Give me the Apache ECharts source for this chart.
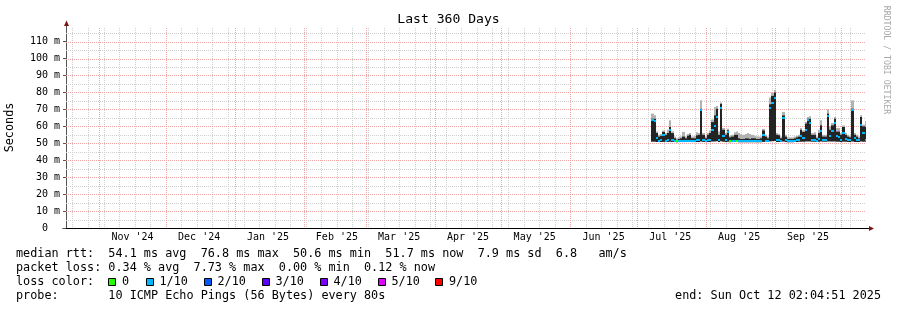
<!DOCTYPE html>
<html><head><meta charset="utf-8">
<script src="https://cdn.jsdelivr.net/npm/echarts@6/dist/echarts.min.js"></script>
<style>html,body{margin:0;padding:0;background:#fff}#c{width:897px;height:310px}</style>
</head><body><div id="c"></div>
<script>
// ---------- data ----------
const chartTitle = 'Last 360 Days';
const yAxisName = 'Seconds';
const creditText = 'RRDTOOL / TOBI OETIKER';
const yTickValues = [0, 10, 20, 30, 40, 50, 60, 70, 80, 90, 100, 110];
const monthLabels = ["Nov '24", "Dec '24", "Jan '25", "Feb '25", "Mar '25", "Apr '25", "May '25", "Jun '25", "Jul '25", "Aug '25", "Sep '25"];
const endTime = [2025, 9, 12, 2, 4, 51];   // Sun Oct 12 02:04:51 2025 (local)
const spanDays = 360;
const firstBinDate = [2025, 6, 8];         // daily bins from here

const medianMs = [
  63.5,63.0,53.0,51.5,52.0,55.0,51.5,52.0,58.0,52.0,
  51.3,51.2,51.3,51.3,51.5,51.4,51.5,51.6,51.3,51.3,
  51.8,52.0,69.4,52.0,51.5,51.8,52.0,58.0,60.0,65.5,
  52.0,71.0,54.0,51.8,56.5,51.2,51.5,51.5,51.5,51.3,
  51.3,51.3,51.3,51.3,51.3,51.3,51.3,51.3,51.3,51.3,
  55.0,51.5,51.5,71.0,74.0,76.8,52.0,51.8,51.5,64.7,
  52.0,51.2,51.2,51.3,51.5,51.8,51.8,54.0,53.0,58.0,
  64.0,62.0,52.0,52.0,51.5,52.5,57.0,52.0,52.0,66.0,
  54.0,57.0,62.0,54.0,53.5,52.0,56.0,52.5,52.0,52.0,
  69.5,53.0,52.0,52.0,60.5,56.0,51.7];
const smokeMinMs = [
  50.9,50.9,50.8,50.7,50.7,50.8,50.7,50.7,50.9,50.8,
  50.7,50.6,50.7,50.7,50.7,50.7,50.7,50.7,50.7,50.7,
  50.8,50.8,51.0,50.8,50.7,50.7,50.8,51.0,51.0,51.2,
  50.8,51.2,50.9,50.7,50.9,50.6,50.7,50.7,50.7,50.6,
  50.6,50.6,50.6,50.6,50.6,50.6,50.6,50.6,50.6,50.6,
  50.8,50.7,50.7,51.0,51.2,51.3,50.8,50.7,50.7,51.0,
  50.8,50.6,50.6,50.6,50.7,50.8,50.9,50.9,50.9,51.0,
  51.1,51.0,50.9,50.9,50.8,50.9,51.0,50.9,50.9,51.1,
  51.0,51.0,51.1,50.9,50.9,50.8,50.9,50.9,50.8,50.8,
  51.0,50.8,50.8,50.8,51.0,50.9,50.9];
const smokeDarkMs = [
  64.5,64.5,56.0,54.0,54.5,56.7,55.0,56.0,59.6,56.0,
  53.0,52.0,52.5,53.0,54.0,53.0,54.5,55.0,53.0,53.0,
  54.7,55.0,70.4,55.0,53.0,55.0,56.0,62.5,66.5,70.4,
  55.0,73.3,58.0,55.0,57.6,53.5,54.0,55.0,55.0,53.0,
  52.5,52.5,53.0,53.0,52.5,53.0,53.0,52.5,52.5,53.0,
  57.6,54.0,53.0,73.0,78.0,80.0,55.0,54.7,53.0,66.5,
  54.0,52.5,52.5,52.5,53.0,53.5,54.0,58.0,56.7,61.6,
  64.5,64.5,55.0,55.0,53.0,56.0,60.6,54.0,54.0,67.5,
  58.0,60.6,64.5,57.0,57.0,55.0,59.6,55.0,54.0,53.5,
  70.4,55.0,54.0,53.0,65.5,60.0,59.6];
const smokeMaxMs = [
  67.5,66.5,57.0,55.0,55.5,57.5,56.0,58.0,63.5,57.0,
  54.0,53.0,53.5,54.0,56.7,54.0,55.5,56.0,54.0,54.5,
  56.5,56.0,75.3,56.0,54.0,56.0,57.5,64.0,71.4,72.0,
  57.0,74.0,59.0,56.0,58.5,54.5,55.0,56.5,57.0,56.0,
  55.5,55.0,55.5,56.0,55.5,55.0,54.5,54.0,54.0,54.0,
  58.5,55.0,54.0,77.0,80.0,81.5,56.0,55.5,54.0,68.5,
  55.0,53.5,53.5,53.5,54.0,54.5,55.0,59.0,57.5,62.5,
  65.5,66.0,56.0,56.5,54.0,58.0,63.5,55.0,55.0,70.0,
  60.0,62.0,65.5,59.0,59.0,56.0,60.5,56.0,55.0,54.5,
  75.3,56.0,55.0,54.0,66.5,61.0,63.0];
const lossTenths = [
  1,1,1,1,1,1,1,1,1,1,
  1,0,1,1,1,1,1,1,1,1,
  1,1,1,1,1,1,1,1,1,1,
  1,1,1,1,1,0,1,1,0,1,
  1,1,1,1,1,1,1,1,1,1,
  1,1,1,1,1,1,1,1,1,1,
  1,1,1,1,1,1,1,1,1,1,
  1,1,1,1,1,1,1,1,1,1,
  1,1,1,1,1,1,1,1,1,1,
  1,1,1,1,1,1,1];
const lossLabels = ['0', '1/10', '2/10', '3/10', '4/10', '5/10', '9/10'];
const lossColors = ['#26ff00', '#00b8ff', '#0059ff', '#5e00ff', '#7e00ff', '#dd00ff', '#ff0000'];
const rttStats = ['54.1', '76.8', '50.6', '51.7', '7.9', '6.8'];
const lossStats = ['0.34', '7.73', '0.00', '0.12'];
const probeText = '10 ICMP Echo Pings (56 Bytes) every 80s';
const endText = 'end: Sun Oct 12 02:04:51 2025';

// ---------- derived ----------
const DAY = 86400000;
const YMAX = 118;
const END = new Date(...endTime).getTime();
const START = END - spanDays * DAY;
const binTimes = medianMs.map((_, i) => new Date(firstBinDate[0], firstBinDate[1], firstBinDate[2] + i).getTime());
const monthStarts = monthLabels.map((_, k) => new Date(2024, 10 + k, 1).getTime());
monthStarts.push(new Date(2025, 9, 1).getTime());
const labelTicks = monthLabels.map((_, k) => monthStarts[k] + 15 * DAY);
const weekStarts = [];
for (let d = new Date(2024, 9, 20); d.getTime() < END; d = new Date(d.getFullYear(), d.getMonth(), d.getDate() + 7)) weekStarts.push(d.getTime());

const FONT = "'DejaVu Sans Mono', monospace";
const MINOR = '#cfcfcf';
const MAJOR = '#f0a4a4';
const ARROW = '#7f1414';

// grid line items: [x, y, orientation(0=vertical,1=horizontal), major(0/1)]
const gridItems = [];
weekStarts.forEach(v => gridItems.push([v, 0, 0, 0]));
for (let v = 5; v < YMAX; v += 10) gridItems.push([START, v, 1, 0]);
monthStarts.forEach(v => gridItems.push([v, 0, 0, 1]));
for (let v = 10; v < YMAX; v += 10) gridItems.push([START, v, 1, 1]);

const chart = echarts.init(document.getElementById('c'), null, { renderer: 'canvas' });

const line1 = 'median rtt:  ' + rttStats[0] + ' ms avg  ' + rttStats[1] + ' ms max  ' + rttStats[2] + ' ms min  ' + rttStats[3] + ' ms now  ' + rttStats[4] + ' ms sd  ' + rttStats[5] + '   am/s';
const line2 = 'packet loss: ' + lossStats[0] + ' % avg  ' + lossStats[1] + ' % max  ' + lossStats[2] + ' % min  ' + lossStats[3] + ' % now';
const line4 = 'probe:       ' + probeText;

function txt(x, y, text, opts) {
  opts = opts || {};
  return {
    type: 'text', x: x, y: y, rotation: opts.rotation || 0, silent: true,
    style: {
      text: text, fontFamily: FONT, fontSize: opts.size || 11.8, fill: opts.color || '#000',
      align: opts.align || 'left', textAlign: opts.align || 'left',
      verticalAlign: 'middle', textVerticalAlign: 'middle'
    }
  };
}

const lossBoxX = [108, 145.5, 203.5, 261.5, 319.5, 377.5, 435];
const graphics = [
  txt(448.5, 19.5, chartTitle, { size: 13.1, align: 'center' }),
  txt(10, 127.5, yAxisName, { rotation: Math.PI / 2, align: 'center' }),
  txt(886, 60, creditText, { rotation: -Math.PI / 2, align: 'center', size: 8.2, color: '#a8a8a8' }),
  txt(16, 254.3, line1),
  txt(16, 268.3, line2),
  txt(16, 282.3, 'loss color:'),
  txt(16, 296.2, line4),
  txt(881, 296.2, endText, { align: 'right' })
];
lossLabels.forEach((lab, k) => {
  graphics.push({ type: 'rect', silent: true, shape: { x: Math.round(lossBoxX[k]) + 0.5, y: 278.5, width: 7, height: 7 },
    style: { fill: lossColors[k], stroke: '#000', lineWidth: 1 } });
  graphics.push(txt(lossBoxX[k] + 14, 282.3, lab));
});

function binRect(api, t, v0, v1) {
  const a = api.coord([t - DAY / 2, v0]);
  const b = api.coord([t + DAY / 2, v1]);
  const x0 = Math.round(a[0]), x1 = Math.round(b[0]);
  return { x: x0, y: b[1], width: Math.max(1, x1 - x0), height: a[1] - b[1] };
}

chart.setOption({
  animation: false,
  backgroundColor: '#fff',
  grid: { left: 66, right: 31, top: 28, bottom: 82, containLabel: false },
  xAxis: {
    type: 'value', min: START, max: END,
    axisLine: { show: true, lineStyle: { color: '#000', width: 1 } },
    axisTick: { show: false },
    splitLine: { show: false },
    axisLabel: {
      customValues: labelTicks,
      formatter: v => { const k = labelTicks.indexOf(v); return k >= 0 ? monthLabels[k] : ''; },
      fontFamily: FONT, fontSize: 10, color: '#000', margin: 4
    }
  },
  yAxis: {
    type: 'value', min: 0, max: YMAX, interval: 10,
    axisLine: { show: true, lineStyle: { color: '#555', width: 1 } },
    axisTick: { show: true, length: 3, customValues: yTickValues, lineStyle: { color: '#555' } },
    splitLine: { show: false },
    axisLabel: {
      customValues: yTickValues,
      formatter: v => v === 0 ? '0  ' : (v % 10 === 0 ? v + ' m' : ''),
      fontFamily: FONT, fontSize: 10, color: '#000', margin: 6
    }
  },
  graphic: graphics,
  series: [
    {
      type: 'custom', name: 'grid', z: 1, silent: true, clip: true,
      encode: { x: 0, y: 1 },
      data: gridItems,
      renderItem: (params, api) => {
        const cs = params.coordSys;
        const p = api.coord([api.value(0), api.value(1)]);
        const color = api.value(3) ? MAJOR : MINOR;
        let shape;
        if (api.value(2) === 0) {
          const x = Math.round(p[0]) + 0.5;
          shape = { x1: x, y1: cs.y, x2: x, y2: cs.y + cs.height };
        } else {
          const y = Math.round(p[1]) + 0.5;
          shape = { x1: cs.x, y1: y, x2: cs.x + cs.width, y2: y };
        }
        return { type: 'line', shape: shape, style: { stroke: color, lineWidth: 1, lineDash: [1, 1] } };
      }
    },
    {
      type: 'custom', name: 'smoke', z: 3, clip: true,
      encode: { x: 0, y: [1, 2, 3] },
      data: binTimes.map((t, i) => [t, smokeMinMs[i], smokeDarkMs[i], smokeMaxMs[i]]),
      renderItem: (params, api) => {
        const t = api.value(0);
        return { type: 'group', children: [
          { type: 'rect', shape: binRect(api, t, api.value(2), api.value(3)), style: { fill: '#b2b2b2' } },
          { type: 'rect', shape: binRect(api, t, api.value(1), api.value(2)), style: { fill: '#242424' } }
        ] };
      }
    },
    {
      type: 'custom', name: 'medianLoss', z: 6, clip: true,
      encode: { x: 0, y: 1 },
      data: binTimes.map((t, i) => [t, medianMs[i], lossTenths[i]]),
      renderItem: (params, api) => {
        const t = api.value(0), v = api.value(1), loss = api.value(2);
        const r = binRect(api, t, v, v);
        return { type: 'rect', shape: { x: r.x, y: Math.round(r.y) - 1, width: r.width, height: 2 },
          style: { fill: lossColors[loss] } };
      }
    }
  ]
});

// axis arrows (decoration)
const o = chart.convertToPixel({ gridIndex: 0 }, [START, 0]);
const r = chart.convertToPixel({ gridIndex: 0 }, [END, 0]);
const tp = chart.convertToPixel({ gridIndex: 0 }, [START, YMAX]);
const ax = Math.round(o[0]) + 0.5, ay = Math.round(o[1]) + 0.5;
chart.setOption({
  graphic: graphics.concat([
    { type: 'line', silent: true, shape: { x1: ax - 4, y1: ay, x2: ax, y2: ay }, style: { stroke: '#000', lineWidth: 1 } },
    { type: 'line', silent: true, shape: { x1: r[0], y1: ay, x2: r[0] + 4, y2: ay }, style: { stroke: '#000', lineWidth: 1 } },
    { type: 'line', silent: true, shape: { x1: ax, y1: tp[1], x2: ax, y2: tp[1] - 3 }, style: { stroke: '#555', lineWidth: 1 } },
    { type: 'polygon', silent: true, shape: { points: [[ax - 2.5, tp[1] - 2], [ax + 2.5, tp[1] - 2], [ax, tp[1] - 7.5]] }, style: { fill: ARROW } },
    { type: 'polygon', silent: true, shape: { points: [[r[0] + 3, ay - 2.5], [r[0] + 3, ay + 2.5], [r[0] + 8, ay]] }, style: { fill: ARROW } }
  ])
});
</script></body></html>
